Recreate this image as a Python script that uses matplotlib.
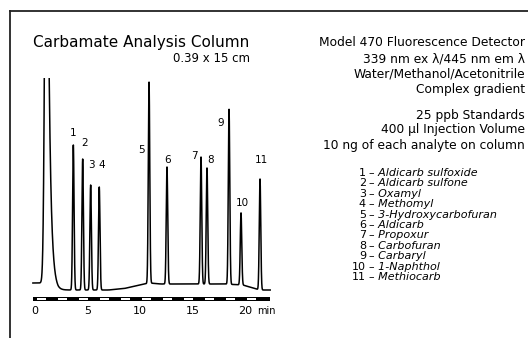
import matplotlib
matplotlib.use("Agg")
import matplotlib.pyplot as plt
import numpy as np

plt.rcParams['font.family'] = ['DejaVu Sans']

# peak data (minutes, height above local baseline)
peak_ids = ["1", "2", "3", "4", "5", "6", "7", "8", "9", "10", "11"]
peak_times = [3.65, 4.54, 5.30, 6.12, 10.86, 12.57, 15.81, 16.38, 18.48, 19.62, 21.43]
peak_heights = [145, 131, 105, 103, 201, 117, 127, 116, 175, 72, 111]

# solvent front (off scale) and baseline drift
solvent_time = 1.12
solvent_height = 600
base_t = [-0.2, 0.8, 2.2, 7.0, 8.5, 10.0, 10.9, 12.0, 18.0, 19.8, 21.4, 22.4]
base_y = [0, 0, -7, -7, -5.5, -2, 0, -1, -1, -2, -7, -7]

compounds = ["Aldicarb sulfoxide", "Aldicarb sulfone", "Oxamyl", "Methomyl",
             "3-Hydroxycarbofuran", "Aldicarb", "Propoxur", "Carbofuran",
             "Carbaryl", "1-Naphthol", "Methiocarb"]
tick_vals = [0, 5, 10, 15, 20]

method_lines = ["Model 470 Fluorescence Detector", "339 nm ex \u03bb/445 nm em \u03bb",
                "Water/Methanol/Acetonitrile", "Complex gradient"]
sample_lines = ["25 ppb Standards", "400 \u00b5l Injection Volume",
                "10 ng of each analyte on column"]

W, H = 528, 338


def fx(x):
    return x / W


def fy(y):
    return 1 - y / H


# build trace
t = np.linspace(-0.2, 22.4, 8000)
sig = np.interp(t, base_t, base_y)
for tp, hp in zip(peak_times, peak_heights):
    sig = sig + hp * np.exp(-0.5 * ((t - tp) / 0.07) ** 2)
rise = solvent_height * np.exp(-0.5 * ((t - solvent_time) / 0.16) ** 2)
fall = solvent_height * np.exp(-np.clip(t - solvent_time, 0, None) / 0.22)
sig = sig + np.where(t < solvent_time, rise, fall)

fig = plt.figure(figsize=(5.28, 3.38), dpi=100)

# chromatogram axes: pixel x = 35 + 10.5 * t, signal in px above y=283
x0, x1 = 28, 280
ytop, ybot = 78, 320
ax = fig.add_axes([fx(x0), fy(ybot), fx(x1) - fx(x0), (ybot - ytop) / H])
ax.set_xlim((x0 - 35) / 10.5, (x1 - 35) / 10.5)
ax.set_ylim(283 - ybot, 283 - ytop)
ax.axis("off")
ax.plot(t, sig, color="black", lw=1.1)

# peak labels
lab_dx = [0.0, 0.15, 0.1, 0.2, -0.75, 0.1, -0.65, 0.3, -0.75, 0.1, 0.1]
lab_dy = [12, 16, 20, 22, -68, 7, 1, 8, -14, 10, 19]
for i, lab in enumerate(peak_ids):
    top = np.interp(peak_times[i], base_t, base_y) + peak_heights[i]
    ax.text(peak_times[i] + lab_dx[i], top + lab_dy[i], lab, fontsize=7.5,
            ha="center", va="center")

# time bar
ax.fill_between([-0.2, 22.4], -18, -14, color="black", lw=0)
for m in range(0, 22, 2):
    ax.fill_between([m + 0.2, m + 1.0], -16.8, -15.2, color="white", lw=0)
for v in tick_vals:
    ax.text(v, -28, str(v), fontsize=8, ha="center", va="center")
ax.text(21.2, -28, "min", fontsize=7, ha="left", va="center")

# frame
fig.add_artist(plt.Line2D([fx(10), 1.0], [fy(11), fy(11)], color="#222222", lw=1.3))
fig.add_artist(plt.Line2D([fx(10), fx(10)], [fy(11), 0.0], color="#222222", lw=1.3))

fig.text(fx(33), fy(43), "Carbamate Analysis Column", fontsize=11, ha="left", va="center")
fig.text(fx(250), fy(58), "0.39 x 15 cm", fontsize=8.5, ha="right", va="center")

for i, s in enumerate(method_lines):
    fig.text(fx(525), fy(43 + 15.5 * i), s, fontsize=8.8, ha="right", va="center")
for i, s in enumerate(sample_lines):
    fig.text(fx(525), fy(115 + 15 * i), s, fontsize=8.8, ha="right", va="center")

for i, name in enumerate(compounds):
    y = 173 + 10.4 * i
    fig.text(fx(366), fy(y), str(i + 1), fontsize=8, ha="right", va="center")
    fig.text(fx(369), fy(y), "\u2013 " + name, fontsize=8, style="italic",
             ha="left", va="center")

fig.savefig("out.png", dpi=100)
